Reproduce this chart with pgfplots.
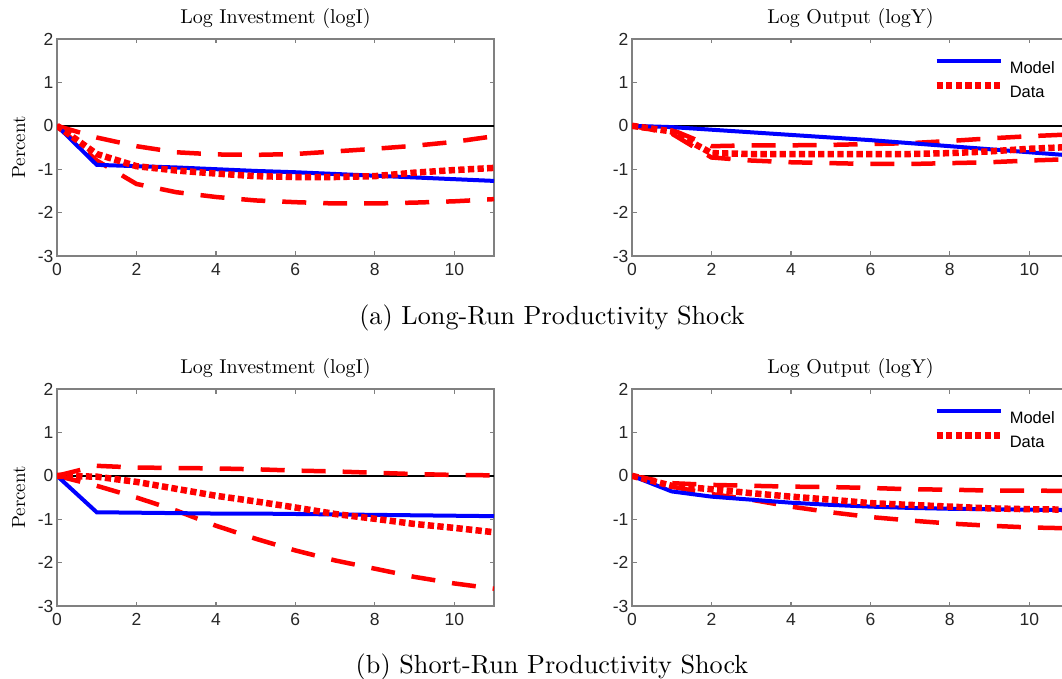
\documentclass[border=0pt]{standalone}
\usepackage{fontspec}
\usepackage{graphicx}
\usepackage{pgfplots}
\pgfplotsset{compat=1.18}
\newfontfamily\arialf{Liberation Sans}
\definecolor{framegray}{RGB}{128,128,128}
\definecolor{labelgray}{RGB}{38,38,38}
\definecolor{mblue}{RGB}{0,0,255}
\definecolor{mred}{RGB}{255,0,0}

% 10pt Latin Modern, enlarged as a whole
\newcommand{\bigtext}[2]{\scalebox{#1}{\fontsize{10}{12}\selectfont #2}}

\pgfplotsset{
  irf/.style={
    scale only axis, width=437pt, height=217pt,
    xmin=0, xmax=11, ymin=-3, ymax=2,
    xtick={0,2,...,10}, ytick={-3,-2,...,2},
    tick align=inside, major tick length=4.5pt,
    axis line style={draw=framegray, line width=1.3pt},
    every tick/.style={draw=framegray, line width=1.3pt},
    ticklabel style={font=\arialf\fontsize{17.5}{17.5}\selectfont, text=labelgray},
    /pgf/number format/assume math mode=true,
    xticklabel style={yshift=-4pt},
    title style={at={(axis description cs:0.5,1.046)}, anchor=base},
    ylabel style={at={(axis description cs:-0.073,0.5)}, anchor=base},
    legend cell align=left,
    legend style={draw=none, fill=none, inner sep=0pt,
                  at={(rel axis cs:0.689,0.908)}, anchor=north west,
                  row sep=9pt,
                  font=\arialf\fontsize{16.5}{16.5}\selectfont,
                  nodes={inner sep=0pt, text height=12pt, text depth=0pt},
                  /tikz/every odd column/.append style={column sep=6pt}},
    legend image code/.code={\draw[##1] (0pt,6pt) -- (64pt,6pt);},
  },
  zeroline/.style={black, line width=2pt, forget plot},
  model/.style={mblue, line width=4pt},
  data/.style={mred, line width=6.5pt, dash pattern=on 6.3pt off 3.3pt},
  band/.style={mred, line width=4.5pt, dash pattern=on 24pt off 17pt, forget plot},
}

\begin{document}
\begin{tikzpicture}
\path[use as bounding box, clip] (0,0) rectangle (1062pt,-679pt);

% ---------- (a) long-run productivity shock: investment ----------
\begin{axis}[irf, at={(57pt,-39pt)}, anchor=north west,
  title={\bigtext{2}{Log Investment (logI)}}, ylabel={\bigtext{1.9}{Percent}}]
\addplot[zeroline] coordinates {(0,0) (11,0)};
\addplot[band] coordinates {(0,0) (1,-0.27) (2,-0.47) (3,-0.61) (4,-0.66) (5,-0.67)
  (6,-0.65) (7,-0.59) (8,-0.53) (9,-0.46) (10,-0.37) (11,-0.24)};
\addplot[band] coordinates {(0,0) (1,-0.80) (2,-1.34) (3,-1.53) (4,-1.64) (5,-1.72)
  (6,-1.76) (7,-1.79) (8,-1.79) (9,-1.77) (10,-1.74) (11,-1.69)};
\addplot[model] coordinates {(0,0) (1,-0.90) (2,-0.93) (3,-0.96) (4,-1.00) (5,-1.04)
  (6,-1.07) (7,-1.11) (8,-1.15) (9,-1.19) (10,-1.23) (11,-1.27)};
\addplot[data] coordinates {(0,0) (1,-0.65) (2,-0.93) (3,-1.03) (4,-1.10) (5,-1.16)
  (6,-1.18) (7,-1.18) (8,-1.16) (9,-1.08) (10,-1.02) (11,-0.97)};
\end{axis}

% ---------- (a) long-run productivity shock: output ----------
\begin{axis}[irf, at={(632pt,-39pt)}, anchor=north west,
  title={\bigtext{2}{Log Output (logY)}}]
\addplot[zeroline] coordinates {(0,0) (11,0)};
\addplot[band] coordinates {(0,0) (1,-0.09) (2,-0.47) (3,-0.45) (4,-0.45) (5,-0.44)
  (6,-0.42) (7,-0.40) (8,-0.35) (9,-0.29) (10,-0.24) (11,-0.20)};
\addplot[band] coordinates {(0,0) (1,-0.18) (2,-0.73) (3,-0.80) (4,-0.84) (5,-0.86)
  (6,-0.88) (7,-0.88) (8,-0.86) (9,-0.84) (10,-0.80) (11,-0.77)};
\addplot[model] coordinates {(0,0) (1,-0.03) (2,-0.09) (3,-0.15) (4,-0.21) (5,-0.27)
  (6,-0.33) (7,-0.40) (8,-0.47) (9,-0.54) (10,-0.61) (11,-0.68)};
\addplot[data] coordinates {(0,0) (1,-0.13) (2,-0.63) (3,-0.65) (4,-0.65) (5,-0.65)
  (6,-0.65) (7,-0.65) (8,-0.63) (9,-0.59) (10,-0.53) (11,-0.49)};
\legend{Model, Data}
\end{axis}

\node[anchor=base] at (552pt,-324pt)
  {\bigtext{2.62}{(a) Long-Run Productivity Shock}};

% ---------- (b) short-run productivity shock: investment ----------
\begin{axis}[irf, at={(57pt,-389pt)}, anchor=north west,
  title={\bigtext{2}{Log Investment (logI)}}, ylabel={\bigtext{1.9}{Percent}}]
\addplot[zeroline] coordinates {(0,0) (11,0)};
\addplot[band] coordinates {(0,0) (1,0.23) (2,0.19) (3,0.18) (4,0.17) (5,0.15)
  (6,0.12) (7,0.10) (8,0.07) (9,0.04) (10,0.02) (11,0.01)};
\addplot[band] coordinates {(0,0) (1,-0.23) (2,-0.50) (3,-0.80) (4,-1.15) (5,-1.45)
  (6,-1.72) (7,-1.95) (8,-2.14) (9,-2.33) (10,-2.48) (11,-2.60)};
\addplot[model] coordinates {(0,0) (1,-0.84) (2,-0.85) (3,-0.86) (4,-0.87) (5,-0.87)
  (6,-0.88) (7,-0.89) (8,-0.90) (9,-0.91) (10,-0.92) (11,-0.93)};
\addplot[data] coordinates {(0,0) (1,-0.02) (2,-0.14) (3,-0.30) (4,-0.46) (5,-0.59)
  (6,-0.73) (7,-0.88) (8,-0.99) (9,-1.11) (10,-1.20) (11,-1.30)};
\end{axis}

% ---------- (b) short-run productivity shock: output ----------
\begin{axis}[irf, at={(632pt,-389pt)}, anchor=north west,
  title={\bigtext{2}{Log Output (logY)}}]
\addplot[zeroline] coordinates {(0,0) (11,0)};
\addplot[band] coordinates {(0,0) (1,-0.17) (2,-0.21) (3,-0.23) (4,-0.25) (5,-0.26)
  (6,-0.28) (7,-0.31) (8,-0.32) (9,-0.34) (10,-0.34) (11,-0.35)};
\addplot[band] coordinates {(0,0) (1,-0.25) (2,-0.42) (3,-0.55) (4,-0.71) (5,-0.84)
  (6,-0.95) (7,-1.03) (8,-1.10) (9,-1.15) (10,-1.19) (11,-1.21)};
\addplot[model] coordinates {(0,0) (1,-0.36) (2,-0.48) (3,-0.55) (4,-0.62) (5,-0.67)
  (6,-0.71) (7,-0.74) (8,-0.76) (9,-0.77) (10,-0.78) (11,-0.79)};
\addplot[data] coordinates {(0,0) (1,-0.23) (2,-0.31) (3,-0.40) (4,-0.48) (5,-0.55)
  (6,-0.63) (7,-0.67) (8,-0.71) (9,-0.75) (10,-0.77) (11,-0.78)};
\legend{Model, Data}
\end{axis}

\node[anchor=base] at (552pt,-673.5pt)
  {\bigtext{2.62}{(b) Short-Run Productivity Shock}};
\end{tikzpicture}
\end{document}
